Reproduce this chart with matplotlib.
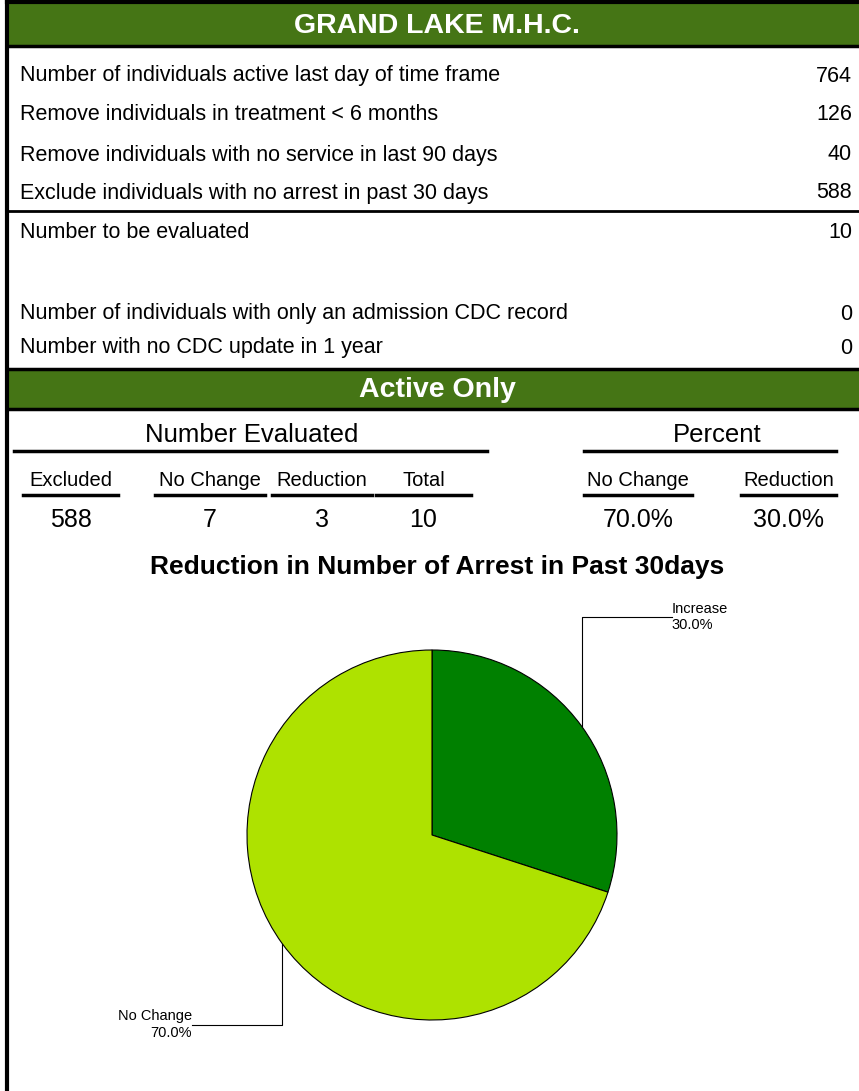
import numpy as np
import matplotlib
matplotlib.use("Agg")
import matplotlib.pyplot as plt

plt.rcParams['font.family'] = ['Liberation Sans', 'DejaVu Sans']

# ---- data ----
title = "GRAND LAKE M.H.C."
row_labels = ["Number of individuals active last day of time frame",
              "Remove individuals in treatment < 6 months",
              "Remove individuals with no service in last 90 days",
              "Exclude individuals with no arrest in past 30 days",
              "Number to be evaluated",
              "Number of individuals with only an admission CDC record",
              "Number with no CDC update in 1 year"]
row_values = [764, 126, 40, 588, 10, 0, 0]

eval_headers = ["Excluded", "No Change", "Reduction", "Total"]
eval_values = [588, 7, 3, 10]
pct_headers = ["No Change", "Reduction"]
pct_values = [70.0, 30.0]

pie_title = "Reduction in Number of Arrest in Past 30days"
pie_labels = ["Increase", "No Change"]
pie_values = [3, 7]

W, H = 859, 1091
green = "#457515"
fig = plt.figure(figsize=(W / 100, H / 100), dpi=100)
ax = fig.add_axes([0, 0, 1, 1])
ax.set_xlim(0, W)
ax.set_ylim(H, 0)
ax.axis("off")

# frame + header bands
ax.plot([7, 7], [0, H], color="black", lw=3)
ax.plot([7, W], [2, 2], color="black", lw=3)
ax.add_patch(plt.Rectangle((8, 4), W - 8, 41, color=green))
ax.plot([7, W], [46, 46], color="black", lw=2.5)
ax.text(437, 26, title, color="white", fontsize=20.5, fontweight="bold",
        ha="center", va="center")

row_y = [76, 115, 155, 193, 233, 314, 348]
for y, lab, val in zip(row_y, row_labels, row_values):
    ax.text(20, y, lab, fontsize=15.5, va="center")
    ax.text(852, y, str(val), fontsize=15.5, va="center", ha="right")
ax.plot([7, W], [211, 211], color="black", lw=2)

ax.plot([7, W], [369, 369], color="black", lw=2.5)
ax.add_patch(plt.Rectangle((8, 370), W - 8, 38, color=green))
ax.plot([7, W], [409, 409], color="black", lw=2.5)
ax.text(437, 390, "Active Only", color="white", fontsize=20.5, fontweight="bold",
        ha="center", va="center")

# group headers
ax.text(252, 435, "Number Evaluated", fontsize=18.5, ha="center", va="center")
ax.plot([14, 487], [451, 451], color="black", lw=2.5)
ax.text(717, 435, "Percent", fontsize=18.5, ha="center", va="center")
ax.plot([584, 836], [451, 451], color="black", lw=2.5)

eval_x = [(23, 118), (155, 265), (272, 372), (376, 471)]
for (x0, x1), h, v in zip(eval_x, eval_headers, eval_values):
    xc = (x0 + x1) / 2
    ax.text(xc, 480, h, fontsize=14.5, ha="center", va="center")
    ax.plot([x0, x1], [495, 495], color="black", lw=2.5)
    ax.text(xc, 520, str(v), fontsize=18, ha="center", va="center")

pct_x = [(584, 692), (741, 836)]
for (x0, x1), h, v in zip(pct_x, pct_headers, pct_values):
    xc = (x0 + x1) / 2
    ax.text(xc, 480, h, fontsize=14.5, ha="center", va="center")
    ax.plot([x0, x1], [495, 495], color="black", lw=2.5)
    ax.text(xc, 520, f"{v:.1f}%", fontsize=18, ha="center", va="center")

ax.text(437, 567, pie_title, fontsize=19, fontweight="bold", ha="center", va="center")

# pie
cx, cy, r = 432, 835, 185
pax = fig.add_axes([(cx - r) / W, (H - cy - r) / H, 2 * r / W, 2 * r / H])
wedges, _ = pax.pie(pie_values, colors=["#008000", "#AEE200"], startangle=90,
                    counterclock=False,
                    wedgeprops=dict(edgecolor="black", linewidth=0.8))
pax.set_xlim(-1, 1)
pax.set_ylim(-1, 1)
pax.set_aspect("equal")
pax.axis("off")

total = sum(pie_values)
for w, lab, v in zip(wedges, pie_labels, pie_values):
    mid = np.deg2rad((w.theta1 + w.theta2) / 2)
    x0, y0 = np.cos(mid), np.sin(mid)
    side = np.sign(x0)
    y1 = 1.178 if y0 > 0 else -1.025
    x1 = 1.297 * side
    pax.plot([x0, x0, x1], [y0, y1, y1], color="black", lw=0.8, clip_on=False)
    txt = f"{lab}\n{100 * v / total:.1f}%"
    if side > 0:
        pax.text(x1, y1, txt, fontsize=10.5, ha="left", va="center",
                 linespacing=1.25, clip_on=False)
    else:
        pax.text(x1, y1, txt, fontsize=10.5, ha="right", va="center",
                 multialignment="right", linespacing=1.25, clip_on=False)

fig.savefig("out.png", dpi=100)
